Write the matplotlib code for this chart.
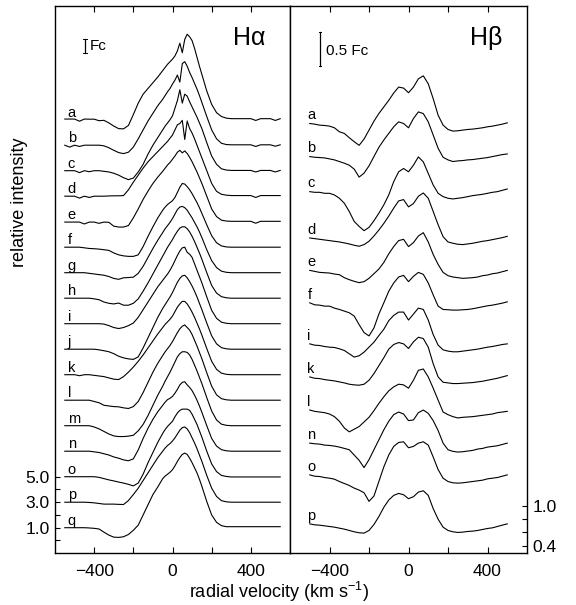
import matplotlib
matplotlib.use("Agg")
import matplotlib.pyplot as plt
import numpy as np

plt.rcParams['font.family'] = ['Liberation Sans', 'DejaVu Sans']
plt.rcParams['mathtext.fontset'] = 'custom'
plt.rcParams['mathtext.rm'] = 'Liberation Sans'
plt.rcParams['mathtext.default'] = 'regular'

# ---------------- H-alpha data (excess over continuum, Fc units) ----------------
VEL_HA = [-550, -525, -500, -475, -450, -425, -400, -375, -350, -325, -300, -275, -250, -225, -200, -175, -150, -125, -100, -75,
          -50, -37.5, -25, -12.5, 0, 12.5, 25, 37.5, 50, 62.5, 75, 87.5, 100, 112.5, 125, 137.5, 150,
          175, 200, 225, 250, 275, 300, 325, 350, 375, 400, 425, 450, 475, 500, 525, 550]

HA_A = [0.05, 0.05, 0.05, -0.12, 0.05, 0.04, 0.04, -0.08, -0.05, -0.25, -0.5, -0.7, -0.72, -0.45, 0.4, 1.3, 2.0, 2.45, 2.9, 3.35,
        3.85, 4.1, 4.35, 4.55, 4.75, 5.0, 5.4, 6.0, 5.25, 6.3, 6.7, 6.5, 6.2, 5.6, 4.9, 4.2, 3.55,
        2.25, 1.2, 0.55, 0.25, 0.12, 0.08, 0.08, 0.08, 0.08, 0.08, -0.06, 0.08, 0.08, 0.08, -0.06, 0.08]
HA_B = [0.0, -0.15, 0.0, -0.1, 0.0, 0.0, 0.0, 0.0, -0.05, -0.2, -0.4, -0.58, -0.66, -0.55, -0.15, 0.5, 1.2, 1.9, 2.5, 3.1,
        3.6, 3.9, 4.2, 4.45, 4.8, 5.1, 5.5, 4.95, 6.4, 6.55, 6.2, 5.7, 5.3, 4.85, 4.4, 3.9, 3.35,
        2.25, 1.2, 0.5, 0.15, 0.05, 0.03, 0.03, 0.03, 0.03, 0.03, -0.1, 0.03, 0.03, 0.03, -0.08, 0.03]
HA_C = [0.0, 0.0, 0.0, -0.15, 0.0, -0.08, 0.0, 0.0, -0.05, -0.1, -0.2, -0.35, -0.55, -0.7, -0.58, -0.1, 0.5, 1.3, 2.0, 2.6,
        3.2, 3.5, 3.75, 4.0, 4.3, 4.9, 5.5, 6.35, 5.3, 6.0, 5.85, 5.4, 5.0, 4.6, 4.2, 3.75, 3.3,
        2.2, 1.15, 0.5, 0.15, 0.05, 0.02, 0.02, 0.02, 0.02, 0.02, -0.1, 0.02, 0.02, 0.02, -0.1, 0.02]
HA_D = [0.0, 0.0, 0.0, -0.15, 0.0, -0.1, 0.0, 0.0, 0.0, 0.02, 0.03, 0.03, 0.05, 0.5, 1.1, 1.65, 2.2, 2.7, 3.1, 3.5,
        3.9, 4.1, 4.3, 4.55, 4.8, 5.2, 5.6, 5.7, 5.95, 4.45, 5.9, 5.3, 4.95, 4.5, 4.0, 3.5, 3.0,
        2.0, 1.0, 0.38, 0.15, 0.08, 0.05, 0.05, 0.05, 0.05, 0.05, -0.1, 0.05, 0.05, 0.05, 0.05, 0.05]
HA_E = [-0.03, -0.03, -0.03, -0.03, -0.18, -0.03, -0.03, -0.13, -0.03, -0.05, -0.35, -0.42, -0.42, -0.3, 0.3, 1.0, 1.75, 2.4, 3.0, 3.5,
        3.95, 4.2, 4.45, 4.65, 4.9, 5.15, 5.45, 5.6, 5.4, 5.55, 5.35, 5.05, 4.7, 4.3, 3.9, 3.45, 3.0,
        2.0, 1.0, 0.4, 0.12, 0.05, 0.03, 0.03, 0.03, 0.03, 0.03, -0.12, 0.03, 0.03, 0.03, 0.03, 0.03]
HA_F = [0.0, 0.0, 0.0, 0.0, -0.05, -0.1, -0.12, -0.15, -0.2, -0.25, -0.45, -0.6, -0.68, -0.72, -0.72, -0.6, 0.05, 0.85, 1.6, 2.3,
        2.9, 3.15, 3.35, 3.5, 3.65, 3.9, 4.3, 4.7, 5.0, 4.95, 4.75, 4.5, 4.2, 3.85, 3.5, 3.1, 2.65,
        1.75, 0.9, 0.35, 0.1, 0.02, 0.0, 0.0, 0.0, 0.0, 0.0, 0.0, 0.0, 0.0, 0.0, 0.0, 0.0]
HA_G = [0.0, 0.0, 0.0, 0.0, 0.0, -0.05, -0.1, -0.15, -0.2, -0.3, -0.45, -0.52, -0.4, -0.38, -0.35, -0.05, 0.5, 1.2, 1.9, 2.55,
        3.15, 3.45, 3.7, 3.95, 4.25, 4.6, 4.95, 5.15, 5.2, 5.1, 4.9, 4.6, 4.3, 3.95, 3.6, 3.2, 2.75,
        1.8, 0.95, 0.4, 0.12, 0.03, 0.0, 0.0, 0.0, 0.0, 0.0, 0.0, 0.0, 0.0, 0.0, 0.0, 0.0]
HA_H = [0.0, 0.0, 0.0, 0.0, 0.0, 0.0, -0.05, -0.12, -0.3, -0.4, -0.45, -0.38, -0.55, -0.55, -0.4, -0.05, 0.55, 1.2, 1.9, 2.6,
        3.3, 3.65, 4.0, 4.3, 4.6, 4.95, 5.25, 5.5, 5.6, 5.6, 5.45, 5.2, 4.85, 4.45, 4.0, 3.55, 3.05,
        2.0, 1.0, 0.4, 0.12, 0.03, 0.0, 0.0, 0.0, 0.0, 0.0, 0.0, 0.0, 0.0, 0.0, 0.0, 0.0]
HA_I = [0.0, 0.0, 0.0, 0.0, 0.0, 0.0, 0.0, 0.0, -0.03, -0.15, -0.3, -0.38, -0.3, -0.15, 0.05, 0.5, 1.1, 1.7, 2.3, 2.9,
        3.4, 3.65, 3.9, 4.2, 4.55, 4.95, 5.35, 5.7, 5.95, 6.0, 5.6, 5.45, 5.2, 4.7, 4.2, 3.7, 3.2,
        2.1, 1.05, 0.42, 0.12, 0.03, 0.0, 0.0, 0.0, 0.0, 0.0, 0.0, 0.0, 0.0, 0.0, 0.0, 0.0]
HA_J = [0.0, 0.0, 0.0, 0.0, 0.0, 0.0, 0.0, -0.05, -0.12, -0.2, -0.35, -0.55, -0.68, -0.76, -0.8, -0.6, 0.1, 0.9, 1.7, 2.5,
        3.2, 3.5, 3.8, 4.1, 4.45, 4.85, 5.25, 5.55, 5.75, 5.8, 5.6, 5.3, 4.95, 4.55, 4.1, 3.6, 3.1,
        2.05, 1.05, 0.42, 0.12, 0.03, 0.0, 0.0, 0.0, 0.0, 0.0, 0.0, 0.0, 0.0, 0.0, 0.0, 0.0]
HA_K = [0.0, 0.0, 0.0, -0.08, 0.0, 0.0, -0.05, -0.1, -0.15, -0.25, -0.35, -0.38, -0.15, 0.2, 0.6, 1.05, 1.55, 2.1, 2.65, 3.2,
        3.7, 3.95, 4.15, 4.35, 4.6, 4.95, 5.3, 5.55, 5.75, 5.75, 5.55, 5.25, 4.9, 4.5, 4.05, 3.6, 3.1,
        2.05, 1.05, 0.42, 0.12, 0.03, 0.0, 0.0, 0.0, 0.0, 0.0, 0.0, 0.0, 0.0, 0.0, 0.0, 0.0]
HA_L = [0.0, 0.0, 0.0, 0.0, 0.0, 0.0, -0.1, -0.2, -0.4, -0.45, -0.5, -0.52, -0.6, -0.65, -0.5, -0.1, 0.6, 1.4, 2.2, 2.9,
        3.5, 3.8, 4.05, 4.3, 4.6, 4.95, 5.3, 5.6, 5.8, 5.9, 5.7, 5.5, 5.15, 4.7, 4.25, 3.75, 3.25,
        2.15, 1.1, 0.42, 0.12, 0.03, 0.0, 0.0, 0.0, 0.0, 0.0, 0.0, 0.0, 0.0, 0.0, 0.0, 0.0]
HA_M = [0.0, 0.0, 0.0, 0.0, 0.0, 0.0, -0.1, -0.25, -0.45, -0.65, -0.8, -0.85, -0.85, -0.82, -0.75, -0.4, 0.1, 0.8, 1.6, 2.4,
        3.1, 3.5, 3.85, 4.2, 4.6, 5.0, 5.4, 5.65, 5.8, 5.8, 5.75, 5.55, 5.2, 4.75, 4.3, 3.8, 3.3,
        2.2, 1.15, 0.45, 0.12, 0.03, 0.0, 0.0, 0.0, 0.0, 0.0, 0.0, 0.0, 0.0, 0.0, 0.0, 0.0]
HA_N = [0.0, 0.0, 0.0, 0.0, 0.0, 0.0, -0.05, -0.1, -0.2, -0.3, -0.45, -0.55, -0.68, -0.75, -0.6, 0.1, 1.0, 1.8, 2.5, 3.1,
        3.6, 3.85, 4.05, 4.15, 4.3, 4.55, 4.85, 5.2, 5.4, 5.45, 5.2, 5.0, 4.75, 4.4, 4.0, 3.55, 3.05,
        2.0, 1.0, 0.4, 0.12, 0.03, 0.0, 0.0, 0.0, 0.0, 0.0, 0.0, 0.0, 0.0, 0.0, 0.0, 0.0]
HA_O = [0.0, 0.0, 0.0, 0.0, 0.0, 0.0, 0.0, -0.05, -0.15, -0.25, -0.33, -0.42, -0.5, -0.6, -0.72, -0.5, 0.2, 1.1, 1.9, 2.7,
        3.4, 3.7, 3.95, 4.15, 4.35, 4.7, 5.0, 5.2, 5.3, 5.3, 5.3, 5.2, 4.9, 4.5, 4.1, 3.6, 3.1,
        2.0, 1.0, 0.4, 0.1, 0.02, -0.02, -0.02, -0.02, -0.02, -0.02, -0.02, -0.02, -0.02, -0.02, -0.02, -0.02]
HA_P = [0.0, 0.0, 0.0, 0.0, 0.0, -0.02, -0.05, -0.1, -0.15, -0.15, -0.15, -0.17, -0.18, 0.13, 0.6, 1.1, 1.7, 2.3, 2.9, 3.5,
        4.0, 4.25, 4.45, 4.6, 4.8, 5.05, 5.35, 5.65, 5.85, 5.9, 5.75, 5.45, 5.05, 4.65, 4.2, 3.7, 3.2,
        2.1, 1.1, 0.45, 0.12, 0.03, 0.0, 0.0, 0.0, 0.0, 0.0, 0.0, 0.0, 0.0, 0.0, 0.0, 0.0]
HA_Q = [0.0, 0.0, 0.0, 0.0, 0.0, -0.02, -0.05, -0.1, -0.35, -0.58, -0.74, -0.76, -0.71, -0.53, -0.2, 0.2, 1.0, 1.8, 2.6, 3.2,
        3.85, 4.05, 4.2, 4.35, 4.55, 4.85, 5.2, 5.5, 5.75, 5.85, 5.75, 5.45, 5.1, 4.7, 4.3, 3.8, 3.25,
        2.05, 1.0, 0.42, 0.16, 0.08, 0.08, 0.08, 0.08, 0.08, 0.08, 0.08, 0.08, 0.08, 0.08, 0.08, 0.08]

HA_LABELS = ['a', 'b', 'c', 'd', 'e', 'f', 'g', 'h', 'i', 'j', 'k', 'l', 'm', 'n', 'o', 'p', 'q']
HA_OFFSETS = [32, 30, 28, 26, 24, 22, 20, 18, 16, 14, 12, 10, 8, 6, 4, 2, 0]
HA_CONT = 1.0
HA_YTICKS = [0, 1, 2, 3, 4, 5]
HA_YTICKLABELS = ['', '1.0', '', '3.0', '', '5.0']

# ---------------- H-beta data (relative to start level, Fc units) ----------------
VEL_HB = [-500, -475, -450, -425, -400, -375, -350, -325, -300, -275, -250, -225, -200, -175, -150, -125, -100, -75, -50, -25,
          0, 25, 50, 75, 100, 125, 150, 175, 200, 225, 250, 275, 300, 325, 350, 375, 400, 425, 450, 475, 500]

HB_A = [0, -0.01, -0.025, -0.03, -0.04, -0.065, -0.125, -0.15, -0.215, -0.275, -0.33, -0.235, -0.1, 0.035, 0.15, 0.25, 0.35, 0.46, 0.55, 0.535,
        0.465, 0.55, 0.675, 0.72, 0.6, 0.375, 0.125, -0.025, -0.09, -0.115, -0.11, -0.1, -0.09, -0.085, -0.075, -0.065, -0.05, -0.04, -0.025, -0.01, 0.01]
HB_B = [0, -0.01, -0.015, -0.02, -0.035, -0.05, -0.075, -0.1, -0.13, -0.19, -0.31, -0.25, -0.14, 0.0, 0.14, 0.25, 0.35, 0.45, 0.525, 0.5,
        0.435, 0.575, 0.675, 0.65, 0.525, 0.325, 0.125, -0.01, -0.05, -0.075, -0.065, -0.06, -0.05, -0.045, -0.035, -0.025, -0.015, 0.0, 0.015, 0.03, 0.04]
HB_C = [0, -0.01, -0.01, -0.025, -0.025, -0.05, -0.1, -0.175, -0.3, -0.45, -0.525, -0.59, -0.54, -0.44, -0.325, -0.2, -0.05, 0.15, 0.3, 0.35,
        0.3, 0.4, 0.525, 0.45, 0.275, 0.1, -0.025, -0.075, -0.1, -0.11, -0.1, -0.09, -0.075, -0.06, -0.05, -0.04, -0.025, -0.01, 0.0, 0.02, 0.04]
HB_D = [0, -0.01, -0.02, -0.03, -0.04, -0.05, -0.06, -0.075, -0.09, -0.11, -0.125, -0.1, -0.05, 0.03, 0.12, 0.22, 0.33, 0.45, 0.56, 0.58,
        0.47, 0.52, 0.63, 0.68, 0.6, 0.4, 0.2, 0.02, -0.06, -0.08, -0.095, -0.1, -0.09, -0.08, -0.065, -0.05, -0.04, -0.025, -0.01, 0.005, 0.025]
HB_E = [0, -0.015, -0.03, -0.035, -0.04, -0.055, -0.065, -0.11, -0.14, -0.165, -0.185, -0.17, -0.12, -0.05, 0.02, 0.12, 0.25, 0.36, 0.45, 0.47,
        0.36, 0.42, 0.52, 0.57, 0.43, 0.24, 0.09, -0.03, -0.08, -0.1, -0.11, -0.12, -0.115, -0.11, -0.1, -0.08, -0.07, -0.05, -0.04, -0.02, 0.0]
HB_F = [0, -0.03, -0.035, -0.05, -0.05, -0.08, -0.1, -0.125, -0.15, -0.2, -0.33, -0.45, -0.5, -0.38, -0.17, 0.0, 0.175, 0.3, 0.39, 0.415,
        0.32, 0.4, 0.46, 0.43, 0.3, 0.12, -0.05, -0.1, -0.105, -0.11, -0.11, -0.105, -0.1, -0.09, -0.075, -0.06, -0.045, -0.035, -0.02, -0.005, 0.015]
HB_I = [0, -0.02, -0.025, -0.04, -0.05, -0.055, -0.075, -0.1, -0.15, -0.2, -0.18, -0.125, -0.05, 0.025, 0.125, 0.22, 0.35, 0.43, 0.48, 0.48,
        0.36, 0.45, 0.54, 0.52, 0.36, 0.14, -0.02, -0.09, -0.11, -0.12, -0.12, -0.11, -0.1, -0.09, -0.08, -0.065, -0.05, -0.04, -0.025, -0.01, 0.0]
HB_K = [0, -0.02, -0.025, -0.04, -0.05, -0.06, -0.075, -0.09, -0.11, -0.12, -0.125, -0.11, -0.05, 0.05, 0.17, 0.29, 0.42, 0.49, 0.52, 0.5,
        0.43, 0.53, 0.6, 0.58, 0.45, 0.2, 0.0, -0.08, -0.09, -0.1, -0.1, -0.095, -0.09, -0.085, -0.075, -0.065, -0.05, -0.035, -0.02, 0.0, 0.02]
HB_L = [0, -0.02, -0.03, -0.04, -0.06, -0.1, -0.17, -0.27, -0.33, -0.29, -0.25, -0.18, -0.11, -0.01, 0.1, 0.2, 0.29, 0.35, 0.39, 0.38,
        0.33, 0.45, 0.6, 0.62, 0.5, 0.33, 0.15, -0.03, -0.07, -0.1, -0.12, -0.11, -0.105, -0.1, -0.09, -0.08, -0.07, -0.06, -0.04, -0.03, -0.02]
HB_N = [0, -0.01, -0.015, -0.03, -0.035, -0.045, -0.06, -0.08, -0.1, -0.18, -0.26, -0.37, -0.25, -0.1, 0.05, 0.2, 0.33, 0.43, 0.47, 0.44,
        0.34, 0.35, 0.46, 0.5, 0.45, 0.34, 0.19, 0.0, -0.1, -0.125, -0.135, -0.13, -0.12, -0.11, -0.09, -0.08, -0.06, -0.05, -0.04, -0.02, 0.0]
HB_O = [0, -0.02, -0.025, -0.04, -0.05, -0.065, -0.1, -0.13, -0.16, -0.2, -0.23, -0.27, -0.4, -0.32, -0.1, 0.12, 0.3, 0.43, 0.49, 0.5,
        0.41, 0.43, 0.48, 0.5, 0.45, 0.27, 0.08, -0.05, -0.1, -0.12, -0.125, -0.12, -0.11, -0.1, -0.09, -0.08, -0.06, -0.05, -0.04, -0.02, 0.0]
HB_P = [0, -0.015, -0.02, -0.03, -0.04, -0.05, -0.065, -0.08, -0.1, -0.12, -0.135, -0.14, -0.1, -0.01, 0.11, 0.25, 0.36, 0.43, 0.46, 0.44,
        0.38, 0.41, 0.48, 0.5, 0.43, 0.23, 0.07, -0.05, -0.1, -0.12, -0.13, -0.125, -0.115, -0.11, -0.1, -0.085, -0.07, -0.06, -0.04, -0.02, 0.0]

HB_LABELS = ['a', 'b', 'c', 'd', 'e', 'f', 'i', 'k', 'l', 'n', 'o', 'p']
HB_OFFSETS = [6.05, 5.55, 5.02, 4.32, 3.83, 3.34, 2.72, 2.22, 1.72, 1.22, 0.74, 0.0]
HB_START = 0.73
HB_YTICKS = [0.4, 0.6, 0.8, 1.0]
HB_YTICKLABELS = ['0.4', '', '', '1.0']

XTICKS = [-400, -200, 0, 200, 400]
XTICKLABELS = ['\u2212400', '', '0', '', '400']

HA_PROFILES = [HA_A, HA_B, HA_C, HA_D, HA_E, HA_F, HA_G, HA_H, HA_I, HA_J, HA_K, HA_L, HA_M, HA_N, HA_O, HA_P, HA_Q]
HB_PROFILES = [HB_A, HB_B, HB_C, HB_D, HB_E, HB_F, HB_I, HB_K, HB_L, HB_N, HB_O, HB_P]
for p in HA_PROFILES:
    assert len(p) == len(VEL_HA), len(p)
for p in HB_PROFILES:
    assert len(p) == len(VEL_HB), len(p)

# ---------------- figure ----------------
W, H = 576, 605
fig = plt.figure(figsize=(W / 100, H / 100), dpi=100)
bottom = 1 - 552.7 / H
height = 547.0 / H
axL = fig.add_axes([55 / W, bottom, 235 / W, height])
axR = fig.add_axes([290 / W, bottom, 237 / W, height])

lw = 0.8
TICK_FS = 12.5
LABEL_FS = 13
for ax in (axL, axR):
    ax.set_xlim(-600, 600)
    for s in ax.spines.values():
        s.set_linewidth(1.0)
    ax.set_xticks(XTICKS)
    ax.set_xticklabels(XTICKLABELS)
    ax.tick_params(axis='x', direction='in', top=True, bottom=True, length=4.3, width=0.8,
                   pad=8, labelsize=TICK_FS)

# Left panel (H-alpha)
axL.set_ylim(-0.96, 41.94)
axL.set_yticks(HA_YTICKS)
axL.set_yticklabels(HA_YTICKLABELS)
axL.tick_params(axis='y', direction='in', left=True, right=False, length=3.3, width=0.8,
                pad=4, labelsize=TICK_FS)
for lab, prof, off in zip(HA_LABELS, HA_PROFILES, HA_OFFSETS):
    y = HA_CONT + off + np.asarray(prof)
    axL.plot(VEL_HA, y, color='black', lw=lw, solid_joinstyle='round')
    axL.text(-535, HA_CONT + off + 0.22, lab, fontsize=10.5, ha='left', va='baseline')

# scale bar 1 Fc
axL.plot([-447, -447], [38.2, 39.3], color='black', lw=0.9)
axL.plot([-455, -439], [38.2, 38.2], color='black', lw=0.7)
axL.plot([-455, -439], [39.3, 39.3], color='black', lw=0.7)
axL.text(-425, 38.75, 'Fc', fontsize=11, ha='left', va='center')

# Right panel (H-beta)
axR.set_ylim(0.294, 8.56)
axR.yaxis.tick_right()
axR.set_yticks(HB_YTICKS)
axR.set_yticklabels(HB_YTICKLABELS)
axR.tick_params(axis='y', direction='in', left=False, right=True, length=3.5, width=0.8,
                pad=4, labelsize=TICK_FS)
for lab, prof, off in zip(HB_LABELS, HB_PROFILES, HB_OFFSETS):
    y = HB_START + off + np.asarray(prof)
    axR.plot(VEL_HB, y, color='black', lw=lw, solid_joinstyle='round')
    axR.text(-512, HB_START + off + 0.065, lab, fontsize=10.5, ha='left', va='baseline')

# scale bar 0.5 Fc
axR.plot([-447, -447], [7.65, 8.16], color='black', lw=0.9)
axR.plot([-453, -441], [7.65, 7.65], color='black', lw=0.7)
axR.plot([-453, -441], [8.16, 8.16], color='black', lw=0.7)
axR.text(-418, 7.88, '0.5 Fc', fontsize=11, ha='left', va='center')

# panel titles
fig.text(233 / W, 1 - 45 / H, 'H\u03b1', fontsize=18, ha='left', va='baseline')
fig.text(470 / W, 1 - 45 / H, 'H\u03b2', fontsize=18, ha='left', va='baseline')

# axis labels
fig.text(278.5 / W, 1 - 592 / H, 'radial velocity (km s$^{\u22121}$)', fontsize=LABEL_FS,
         ha='center', va='center')
fig.text(20 / W, 1 - 202 / H, 'relative intensity', fontsize=LABEL_FS, rotation=90,
         ha='center', va='center')

fig.savefig('out.png', dpi=100)
